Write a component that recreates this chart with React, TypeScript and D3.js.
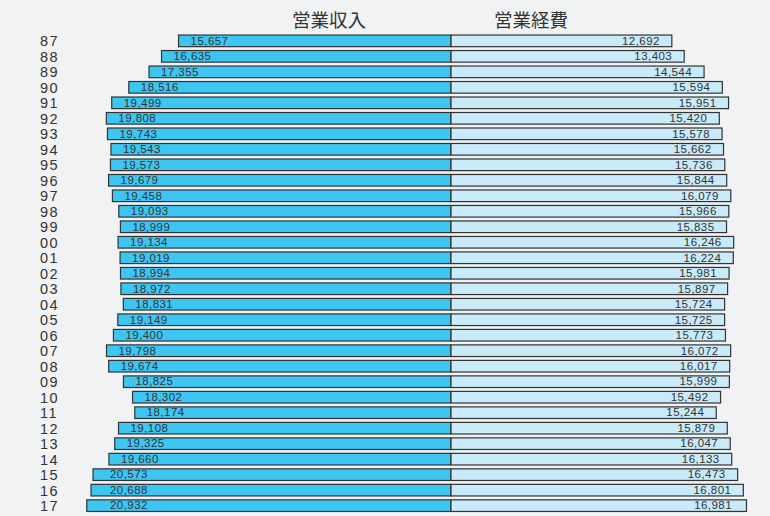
import React, { useEffect, useRef } from "react";
import * as d3 from "d3";

const years = ["87","88","89","90","91","92","93","94","95","96","97","98","99","00","01","02","03","04","05","06","07","08","09","10","11","12","13","14","15","16","17"];
const income = [15657,16635,17355,18516,19499,19808,19743,19543,19573,19679,19458,19093,18999,19134,19019,18994,18972,18831,19149,19400,19798,19674,18825,18302,18174,19108,19325,19660,20573,20688,20932];
const expense = [12692,13403,14544,15594,15951,15420,15578,15662,15736,15844,16079,15966,15835,16246,16224,15981,15897,15724,15725,15773,16072,16017,15999,15492,15244,15879,16047,16133,16473,16801,16981];
const titles = ["営業収入", "営業経費"];

export default function App() {
  const ref = useRef<SVGSVGElement>(null);

  useEffect(() => {
    const width = 770;
    const height = 516;
    const center = 451;
    const svg = d3.select(ref.current);
    svg.selectAll("*").remove();

    svg.append("rect").attr("width", width).attr("height", height).attr("fill", "#f1f2f4");

    const x = d3.scaleLinear().domain([0, 20000]).range([0, 348]);
    const y = d3.scaleBand().domain(years).range([33.5, 513]).paddingInner(0.25).paddingOuter(0.1);

    const rows = years.map((yr, i) => ({ yr, inc: income[i], exp: expense[i] }));
    const g = svg.append("g");

    g.selectAll("rect.inc")
      .data(rows)
      .enter()
      .append("rect")
      .attr("class", "inc")
      .attr("x", (d) => center - x(d.inc))
      .attr("y", (d) => y(d.yr)!)
      .attr("width", (d) => x(d.inc))
      .attr("height", y.bandwidth())
      .attr("fill", "#3ec6f2")
      .attr("stroke", "#333")
      .attr("stroke-width", 1.2);

    g.selectAll("rect.exp")
      .data(rows)
      .enter()
      .append("rect")
      .attr("class", "exp")
      .attr("x", center)
      .attr("y", (d) => y(d.yr)!)
      .attr("width", (d) => x(d.exp))
      .attr("height", y.bandwidth())
      .attr("fill", "#c8eaf9")
      .attr("stroke", "#333")
      .attr("stroke-width", 1.2);

    const fmt = d3.format(",");
    const font = "'Liberation Sans', Arial, sans-serif";

    g.selectAll("text.incl")
      .data(rows)
      .enter()
      .append("text")
      .attr("x", (d) => Math.max(center - x(d.inc) + 12, 110))
      .attr("y", (d) => y(d.yr)! + y.bandwidth() / 2 + 3.8)
      .attr("font-family", font)
      .attr("font-size", 11.5)
      .attr("letter-spacing", 0.45)
      .attr("fill", "#333")
      .text((d) => fmt(d.inc));

    g.selectAll("text.expl")
      .data(rows)
      .enter()
      .append("text")
      .attr("x", (d) => Math.min(center + x(d.exp) - 12, 732))
      .attr("y", (d) => y(d.yr)! + y.bandwidth() / 2 + 3.8)
      .attr("text-anchor", "end")
      .attr("font-family", font)
      .attr("font-size", 11.5)
      .attr("letter-spacing", 0.45)
      .attr("fill", "#333")
      .text((d) => fmt(d.exp));

    g.selectAll("text.yr")
      .data(rows)
      .enter()
      .append("text")
      .attr("x", 40)
      .attr("y", (d) => y(d.yr)! + y.bandwidth() / 2 + 5.5)
      .attr("font-family", font)
      .attr("font-size", 14.5)
      .attr("letter-spacing", 1.4)
      .attr("fill", "#333")
      .text((d) => d.yr);

    svg.selectAll("text.title")
      .data(titles)
      .enter()
      .append("text")
      .attr("x", (d, i) => (i === 0 ? 329 : 531))
      .attr("y", 27)
      .attr("text-anchor", "middle")
      .attr("font-family", "'Noto Sans CJK JP', sans-serif")
      .attr("font-size", 18.5)
      .attr("fill", "#333")
      .text((d) => d);
  }, []);

  return (
    <div style={{ position: "absolute", left: 0, top: 0 }}>
      <svg ref={ref} width={770} height={516} style={{ display: "block" }} />
    </div>
  );
}
